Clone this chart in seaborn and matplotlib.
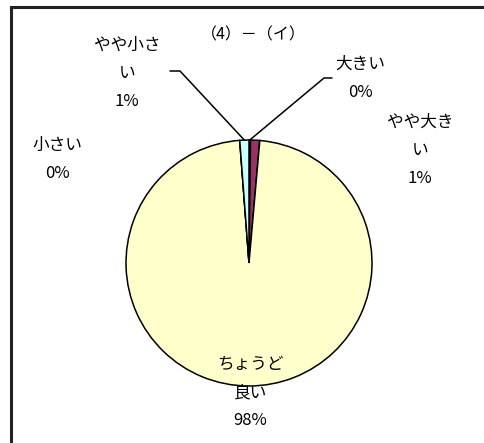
import numpy as np
import matplotlib.pyplot as plt
import seaborn as sns

# data
labels = ['大きい', 'やや大き\nい', 'ちょうど\n良い', '小さい', 'やや小さ\nい']
values = [0.2, 1.2, 97.4, 0.0, 1.2]
pct_text = ['0%', '1%', '98%', '0%', '1%']
colors = ['#9999FF', '#993366', '#FFFFCC', '#CCFFFF', '#CCFFFF']
title = '（4）－（イ）'

sns.set_theme(style='white')
plt.rcParams['font.family'] = ['Noto Sans CJK JP', 'DejaVu Sans']
plt.rcParams['text.color'] = 'black'

W, H = 485, 443
fig = plt.figure(figsize=(W / 100, H / 100), dpi=100)
ax = fig.add_axes([0, 0, 1, 1])

def py(y):
    # pixel row -> data y
    return H - y

cx, cy, r = 249, py(263), 123
wedges, _ = ax.pie(values, colors=colors, startangle=90, counterclock=False,
                   center=(cx, cy), radius=r,
                   wedgeprops=dict(edgecolor='black', linewidth=1.1))
ax.set_xlim(0, W)
ax.set_ylim(0, H)
ax.axis('off')

# outer frame (only top and left visible)
ax.plot([11, 11, W + 5], [-5, py(7), py(7)], color='#222222', lw=2.2,
        clip_on=False, solid_joinstyle='miter')

ax.text(253, py(35), title, ha='center', va='center', fontsize=11.5,
        color='black')

# label positions (pixel coords, centre of first line)
label_pos = [(360, 62), (420, 120), (250, 362), (57, 143), (127, 43)]
for lab, pct, (x, y) in zip(labels, pct_text, label_pos):
    ax.text(x, py(y - 6), lab + '\n' + pct, ha='center', va='top',
            fontsize=12, linespacing=1.85, color='black')

# leader lines to the small top slices
def edge_point(w):
    ang = np.deg2rad((w.theta1 + w.theta2) / 2)
    return cx + r * np.cos(ang), cy + r * np.sin(ang)

x0, y0 = edge_point(wedges[0])
ax.plot([x0, 324, 332], [y0, py(78), py(78)], color='black', lw=1.1)
x4, y4 = edge_point(wedges[4])
ax.plot([x4, 180, 170], [y4, py(71), py(71)], color='black', lw=1.1)

fig.savefig('out.png', dpi=100, facecolor='white')
